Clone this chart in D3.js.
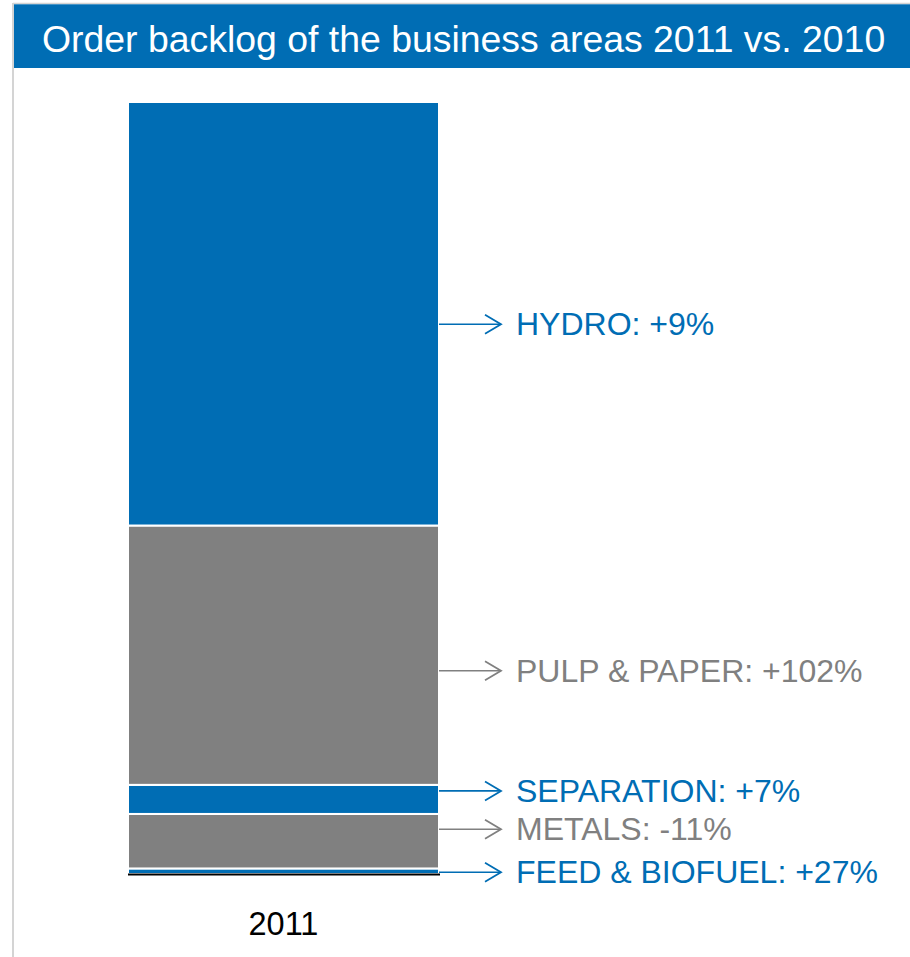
<!DOCTYPE html>
<html>
<head>
<meta charset="utf-8">
<script src="https://cdn.jsdelivr.net/npm/d3@7"></script>
<style>
  html, body { margin: 0; padding: 0; background: #fff; }
  svg { display: block; font-family: "Liberation Sans", Arial, sans-serif; }
</style>
</head>
<body>
<svg id="chart" width="910" height="957"></svg>
<script>
// Order backlog 2011 by business area (MEUR, stacked bottom to top)
const areas   = ["FEED & BIOFUEL", "METALS", "SEPARATION", "PULP & PAPER", "HYDRO"];
const backlog = [44, 433, 231, 2060, 3364];
const change  = ["+27%", "-11%", "+7%", "+102%", "+9%"];
const years   = ["2011"];

const BLUE = "#006db4";
const GRAY = "#808080";
const fills = [BLUE, GRAY, BLUE, GRAY, BLUE];

// label nudges (px) away from each segment centre so the callouts don't collide
const labelNudge = [1, -12, -8.5, 15.5, 10.5];

const svg = d3.select("#chart");
const W = 910, H = 957;

// frame: light grey rule at top and left
svg.append("line").attr("x1", 13).attr("x2", W).attr("y1", 3.5).attr("y2", 3.5)
  .attr("stroke", "#d4d4d4").attr("stroke-width", 1.5);
svg.append("line").attr("x1", 13).attr("x2", 13).attr("y1", 3).attr("y2", H)
  .attr("stroke", "#d4d4d4").attr("stroke-width", 2);

// title band
svg.append("rect").attr("x", 14).attr("y", 4.3).attr("width", W - 14).attr("height", 63.7)
  .attr("fill", BLUE);
svg.append("text").attr("x", 42).attr("y", 52)
  .attr("fill", "#fff").attr("font-size", 37.4)
  .text("Order backlog of the business areas 2011 vs. 2010");

// scales
const total = d3.sum(backlog);
const x = d3.scaleBand().domain(years).range([128, 439]).paddingInner(0).paddingOuter(0);
const y = d3.scaleLinear().domain([0, total]).range([874, 102]);

// stacked segments
const stacked = [];
let acc = 0;
areas.forEach((a, i) => {
  stacked.push({ area: a, y0: acc, y1: acc + backlog[i], fill: fills[i], change: change[i], nudge: labelNudge[i] });
  acc += backlog[i];
});

const g = svg.append("g");
g.selectAll("rect.seg").data(stacked).join("rect")
  .attr("class", "seg")
  .attr("x", x("2011"))
  .attr("width", x.bandwidth())
  .attr("y", d => y(d.y1))
  .attr("height", d => y(d.y0) - y(d.y1))
  .attr("fill", d => d.fill)
  .attr("stroke", "#fff")
  .attr("stroke-width", 2);

// baseline
svg.append("line")
  .attr("x1", x("2011")).attr("x2", x("2011") + x.bandwidth() + 1)
  .attr("y1", y(0) + 0.5).attr("y2", y(0) + 0.5)
  .attr("stroke", "#000").attr("stroke-width", 2);

// x-axis category label
svg.append("text")
  .attr("x", x("2011") + x.bandwidth() / 2)
  .attr("y", 935)
  .attr("text-anchor", "middle")
  .attr("font-size", 32.5)
  .attr("fill", "#000")
  .text("2011");

// callout arrows + labels
const xr = x("2011") + x.bandwidth();
const callouts = svg.append("g").selectAll("g").data(stacked).join("g")
  .attr("transform", d => `translate(0, ${(y(d.y0) + y(d.y1)) / 2 + d.nudge})`);

callouts.append("line")
  .attr("x1", xr).attr("x2", 501).attr("y1", 0).attr("y2", 0)
  .attr("stroke", d => d.fill).attr("stroke-width", 1.6);
callouts.append("path")
  .attr("d", "M485,-9.5L501,0L485,9.5")
  .attr("fill", "none")
  .attr("stroke", d => d.fill).attr("stroke-width", 1.8);
callouts.append("text")
  .attr("x", 516)
  .attr("y", 0)
  .attr("dy", "0.35em")
  .attr("font-size", 32)
  .attr("fill", d => d.fill)
  .text(d => `${d.area}: ${d.change}`);
</script>
</body>
</html>
